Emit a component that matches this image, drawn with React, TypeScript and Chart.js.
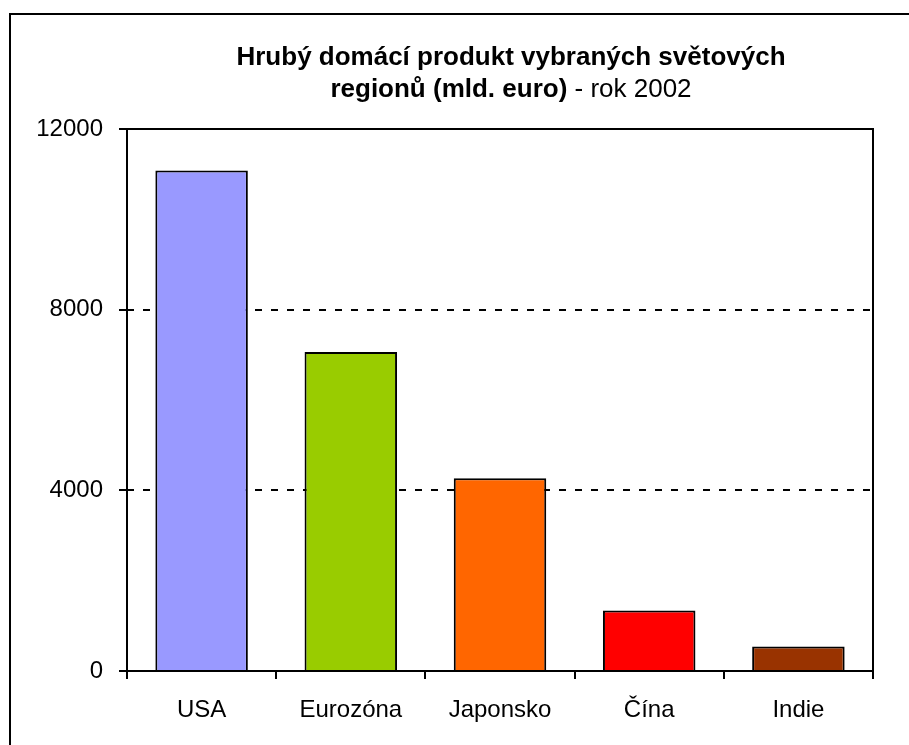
import React, { useEffect, useRef } from "react";
import { Chart, registerables } from "chart.js";

Chart.register(...registerables);

const categories = ["USA", "Eurozóna", "Japonsko", "Čína", "Indie"];
const gdpValues = [11080, 7060, 4270, 1340, 540];
const barColors = ["#9999FF", "#99CC00", "#FF6600", "#FF0000", "#993300"];
const yTickValues = [0, 4000, 8000, 12000];
const titleLine1 = "Hrubý domácí produkt vybraných světových";
const titleLine2Bold = "regionů (mld. euro)";
const titleLine2Normal = " - rok 2002";

const FONT = '"Liberation Sans", Arial, sans-serif';

const framePlugin = {
  id: "frameAndTitle",
  beforeDraw(chart: any) {
    const ctx = chart.ctx;
    ctx.save();
    ctx.fillStyle = "#ffffff";
    ctx.fillRect(0, 0, chart.width, chart.height);
    ctx.strokeStyle = "#000";
    ctx.lineWidth = 2;
    ctx.beginPath();
    ctx.moveTo(10, chart.height + 2);
    ctx.lineTo(10, 14);
    ctx.lineTo(chart.width + 2, 14);
    ctx.stroke();

    const cx = 511;
    ctx.fillStyle = "#000";
    ctx.textBaseline = "alphabetic";
    ctx.textAlign = "left";
    ctx.font = `bold 26px ${FONT}`;
    const w1 = ctx.measureText(titleLine1).width;
    ctx.fillText(titleLine1, cx - w1 / 2, 65);
    const wb = ctx.measureText(titleLine2Bold).width;
    ctx.font = `26px ${FONT}`;
    const wn = ctx.measureText(titleLine2Normal).width;
    const start = cx - (wb + wn) / 2;
    ctx.font = `bold 26px ${FONT}`;
    ctx.fillText(titleLine2Bold, start, 97);
    ctx.font = `26px ${FONT}`;
    ctx.fillText(titleLine2Normal, start + wb, 97);
    ctx.restore();
  },
  afterDatasetsDraw(chart: any) {
    const { ctx, chartArea } = chart;
    ctx.save();
    ctx.strokeStyle = "#000";
    ctx.lineWidth = 2;
    ctx.strokeRect(
      chartArea.left,
      chartArea.top,
      chartArea.right - chartArea.left,
      chartArea.bottom - chartArea.top
    );
    ctx.restore();
  },
};

export default function App() {
  const ref = useRef<HTMLCanvasElement | null>(null);

  useEffect(() => {
    if (!ref.current) return;
    const chart = new Chart(ref.current, {
      type: "bar",
      data: {
        labels: categories,
        datasets: [
          {
            data: gdpValues,
            backgroundColor: barColors,
            borderColor: "#000",
            borderWidth: 2,
            barPercentage: 0.62,
            categoryPercentage: 1,
          },
        ],
      },
      options: {
        responsive: false,
        animation: false,
        devicePixelRatio: 1,
        layout: { padding: { left: 0, top: 129, right: 36, bottom: 0 } },
        plugins: {
          legend: { display: false },
          title: { display: false },
          tooltip: { enabled: false },
        },
        scales: {
          x: {
            afterFit(scale: any) {
              scale.height = 74;
            },
            border: { display: false },
            grid: {
              display: true,
              drawOnChartArea: false,
              drawTicks: true,
              tickLength: 8,
              tickColor: "#000",
              tickWidth: 2,
              lineWidth: 2,
              color: "#000",
              offset: true,
            },
            ticks: {
              color: "#000",
              font: { family: FONT, size: 24 },
              padding: 17,
              maxRotation: 0,
            },
          },
          y: {
            min: 0,
            max: 12000,
            afterFit(scale: any) {
              scale.width = 127;
            },
            afterBuildTicks(scale: any) {
              scale.ticks = yTickValues.map((v) => ({ value: v }));
            },
            border: { display: false, dash: [7, 9] },
            grid: {
              color: (c: any) =>
                c.tick && (c.tick.value === 4000 || c.tick.value === 8000)
                  ? "#000"
                  : "rgba(0,0,0,0)",
              lineWidth: 2,
              drawTicks: true,
              tickLength: 8,
              tickColor: "#000",
              tickWidth: 2,
              tickBorderDash: [],
            },
            ticks: {
              color: "#000",
              font: { family: FONT, size: 24 },
              padding: 16,
              callback: (v: any) => String(v),
            },
          },
        },
      },
      plugins: [framePlugin],
    });
    return () => chart.destroy();
  }, []);

  return (
    <div style={{ position: "absolute", left: 0, top: 0, width: 909, height: 745 }}>
      <canvas ref={ref} width={909} height={745} style={{ display: "block" }} />
    </div>
  );
}
